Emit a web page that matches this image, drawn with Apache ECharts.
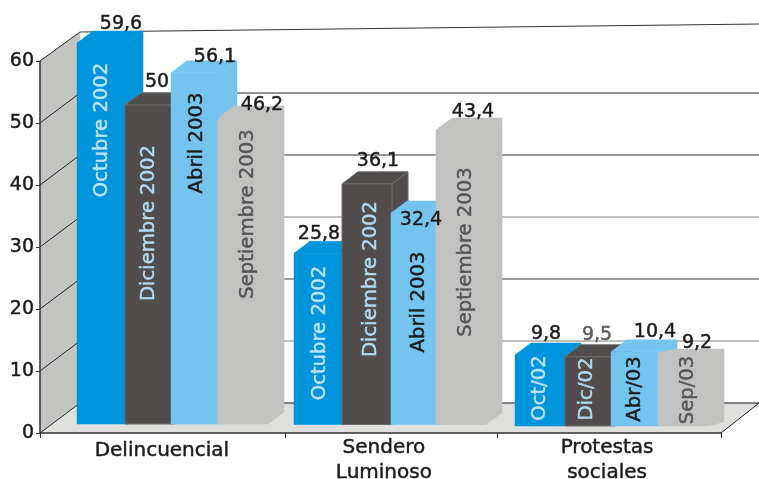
<!DOCTYPE html>
<html><head><meta charset="utf-8">
<style>html,body{margin:0;padding:0;background:#fff}#c{width:759px;height:479px}</style>
<script src="https://cdn.jsdelivr.net/npm/echarts@6/dist/echarts.min.js"></script>
</head><body><div id="c"></div>
<script>
// ---- data ----
const categories = ['Delincuencial', 'Sendero\nLuminoso', 'Protestas\nsociales'];
const seriesNames = ['Octubre 2002', 'Diciembre 2002', 'Abril 2003', 'Septiembre 2003'];
const shortNames = ['Oct/02', 'Dic/02', 'Abr/03', 'Sep/03'];
// printed values
const octubre2002 = [59.6, 25.8, 9.8];
const diciembre2002 = [50, 36.1, 9.5];
const abril2003 = [56.1, 32.4, 10.4];
const septiembre2003 = [46.2, 43.4, 9.2];
// drawn heights read against the value axis (the artwork is not strictly to scale)
const octubreLevel = [61.6, 27.7, 11.3];
const diciembreLevel = [51.6, 38.9, 11];
const abrilLevel = [56.8, 34.2, 11.8];
const septiembreLevel = [49.5, 47.6, 11.6];
const yTicks = [0, 10, 20, 30, 40, 50, 60];

// ---- layout / style ----
const values = [octubre2002, diciembre2002, abril2003, septiembre2003];
const levels = [octubreLevel, diciembreLevel, abrilLevel, septiembreLevel];
const colors = ['#0094dc', '#514d4c', '#75c4f0', '#c2c2c1'];
const textColors = ['#bfe3f6', '#b0daf2', '#1a1a1a', '#555555'];
const groupCenters = [0.5, 1.5, 2.5];
const barLeft = [[-76.5, -28.5, 17.5, 64.5], [-86.5, -38.5, 10.5, 55.5], [-92.5, -42.5, 3.5, 50.5]];
const barText = [
  [[25, 130], [24, 223], [26, 143], [30, 214]],
  [[26, 333], [29, 279], [28, 302], [30, 252]],
  [[25, 388], [22, 389], [24, 389], [30, 390]]
];
const labelPos = [
  [[44, -19], [32, -23], [44, -16], [44, -13]],
  [[25, -19], [36, -23], [30, 7], [37, -18]],
  [[31, -21], [32, -22], [44, -20], [39, -10]]
];
const gridColors = { 0: '#1a1a1a', 10: '#808080', 20: '#3a3a3a', 30: '#808080', 40: '#333', 50: '#222', 60: '#333' };
const baseLift = [9, 8.5, 7];
const FONT = '"DejaVu Sans"';
const FW = 50, DX = 16, DY = 12;
const WALL = [40, -30];

function poly(pts, fill, stroke) {
  return { type: 'polygon', shape: { points: pts },
    style: { fill, stroke: stroke || fill, lineWidth: stroke ? 1 : 0.5 } };
}
function line(a, b, color, w) {
  return { type: 'line', shape: { x1: a[0], y1: a[1], x2: b[0], y2: b[1] },
    style: { stroke: color, lineWidth: w || 1, fill: null } };
}

const scene = {
  type: 'custom', z: 1, silent: true, coordinateSystem: 'cartesian2d',
  data: yTicks.map(t => [0, t]),
  renderItem(params, api) {
    const t = api.value(1);
    const p = api.coord([0, t]);
    const end = api.coord([3, t]);
    const children = [];
    if (t === 0) {
      const p60 = api.coord([0, 60]);
      children.push(poly([p, [p[0] + WALL[0], p[1] + WALL[1]], [p60[0] + WALL[0], p60[1] + WALL[1] + 1], p60], '#c3c3c2'));
      children.push(poly([p, [p[0] + WALL[0], p[1] + WALL[1]], [759, p[1] + WALL[1]], end], '#dfdfde'));
      children.push(line([end[0], end[1]], [759, p[1] + WALL[1]], '#222', 1));
    }
    const back = [p[0] + WALL[0], p[1] + WALL[1] + (t === 60 ? 1 : 0)];
    children.push(line(p, back, '#2a2a2a', 1));
    const rise = t === 60 ? -8 : 0;
    children.push(line(back, [759, back[1] + rise], gridColors[t], 1));
    return { type: 'group', children };
  }
};

function barSeries(s) {
  return {
    type: 'custom', name: seriesNames[s], z: 2 + s, silent: true, coordinateSystem: 'cartesian2d',
    data: levels[s].map((lv, g) => [g, lv]),
    renderItem(params, api) {
      const g = api.value(0), lv = api.value(1);
      const top = api.coord([groupCenters[g], lv]);
      const base = api.coord([groupCenters[g], 0]);
      const left = top[0] + barLeft[g][s];
      const yTop = top[1] - 8, yBase = base[1] - baseLift[g];
      const dy = (g === 2 && s === 3) ? 4 : DY;
      const right = left + FW;
      const col = colors[s];
      const edge = s === 1 ? '#6d6a69' : null;
      const children = [
        poly([[right, yTop], [right + DX, yTop - dy], [right + DX, yBase - dy], [right, yBase]], col, edge),
        poly([[left, yTop], [left + DX, yTop - dy], [right + DX, yTop - dy], [right, yTop]], col, edge),
        poly([[left, yTop], [right, yTop], [right, yBase], [left, yBase]], col, edge)
      ];
      const pos = barText[g][s];
      children.push({
        type: 'text', x: left + pos[0], y: pos[1], rotation: Math.PI / 2,
        style: { text: g === 2 ? shortNames[s] : seriesNames[s], fill: textColors[s],
          stroke: textColors[s], lineWidth: 0.45,
          font: '19.6px ' + FONT, align: 'center', verticalAlign: 'middle' }
      });
      return { type: 'group', children };
    }
  };
}

function labelSeries(s) {
  return {
    type: 'custom', z: 20, silent: true, coordinateSystem: 'cartesian2d',
    data: levels[s].map((lv, g) => [g, lv, values[s][g]]),
    renderItem(params, api) {
      const g = api.value(0);
      const top = api.coord([groupCenters[g], api.value(1)]);
      const left = top[0] + barLeft[g][s];
      const pos = labelPos[g][s];
      const c = (g === 2 && s === 1) ? '#5a5a5a' : '#1a1a1a';
      return {
        type: 'text', x: left + pos[0], y: top[1] - 8 + pos[1],
        style: { text: String(api.value(2)).replace('.', ','), fill: c, stroke: c, lineWidth: 0.45,
          font: '19px ' + FONT, align: 'center', verticalAlign: 'middle' }
      };
    }
  };
}

const chart = echarts.init(document.getElementById('c'), null, { renderer: 'canvas' });
chart.setOption({
  animation: false,
  backgroundColor: '#ffffff',
  grid: { left: 40, right: 38, top: 61, bottom: 46, containLabel: false, outerBoundsMode: 'none' },
  xAxis: {
    type: 'value', min: 0, max: 3, z: 30, splitLine: { show: false },
    axisLine: { onZero: false, lineStyle: { color: '#333', width: 1.5 } },
    axisTick: { length: 5, inside: false, customValues: [0, 1.079, 2.013, 3], lineStyle: { color: '#333' } },
    axisLabel: {
      customValues: [0.537, 1.515, 2.498], margin: 2, color: '#1a1a1a',
      fontFamily: FONT, fontSize: 20, lineHeight: 25,
      textBorderColor: '#1a1a1a', textBorderWidth: 0.45,
      formatter: v => {
        const name = categories[Math.floor(v)];
        return name.indexOf('\n') < 0 ? '{one|' + name + '}' : name;
      },
      rich: { one: { fontFamily: FONT, fontSize: 20, lineHeight: 31, color: '#1a1a1a',
        textBorderColor: '#1a1a1a', textBorderWidth: 0.45 } }
    }
  },
  yAxis: {
    type: 'value', min: 0, max: 60, interval: 10, z: 30, splitLine: { show: false },
    axisLine: { show: true, lineStyle: { color: '#333', width: 1.5 } },
    axisTick: { show: true, length: 4, lineStyle: { color: '#333' } },
    axisLabel: { color: '#1a1a1a', fontFamily: FONT, fontSize: 19, margin: 6,
      textBorderColor: '#1a1a1a', textBorderWidth: 0.45 }
  },
  series: [scene, barSeries(0), barSeries(1), barSeries(2), barSeries(3),
    labelSeries(0), labelSeries(1), labelSeries(2), labelSeries(3)]
});
</script></body></html>
